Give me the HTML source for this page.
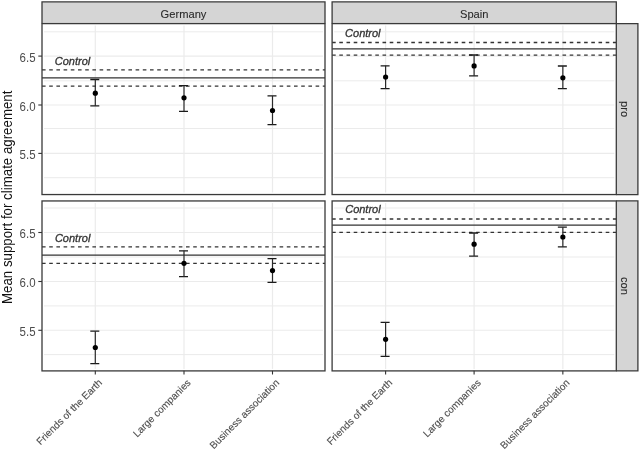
<!DOCTYPE html>
<html><head><meta charset="utf-8"><style>
html,body{margin:0;padding:0;background:#fff;}
body{width:640px;height:450px;overflow:hidden;font-family:"Liberation Sans",sans-serif;}
svg{display:block;}
#w{width:640px;height:450px;filter:grayscale(1);}
</style></head><body><div id="w">
<svg width="640" height="450" viewBox="0 0 640 450">
<rect width="640" height="450" fill="#fff"/>
<clipPath id="c00"><rect x="42.0" y="23.6" width="283.0" height="170.95000000000002"/></clipPath>
<g clip-path="url(#c00)">
<line x1="44.0" x2="323.0" y1="31.8" y2="31.8" stroke="#ebebeb" stroke-width="1.0"/>
<line x1="44.0" x2="323.0" y1="56.1" y2="56.1" stroke="#ebebeb" stroke-width="1.1"/>
<line x1="44.0" x2="323.0" y1="80.8" y2="80.8" stroke="#ebebeb" stroke-width="1.0"/>
<line x1="44.0" x2="323.0" y1="105.0" y2="105.0" stroke="#ebebeb" stroke-width="1.1"/>
<line x1="44.0" x2="323.0" y1="128.5" y2="128.5" stroke="#ebebeb" stroke-width="1.0"/>
<line x1="44.0" x2="323.0" y1="153.4" y2="153.4" stroke="#ebebeb" stroke-width="1.1"/>
<line x1="44.0" x2="323.0" y1="177.7" y2="177.7" stroke="#ebebeb" stroke-width="1.0"/>
<line x1="95.3" x2="95.3" y1="25.6" y2="192.55" stroke="#ebebeb" stroke-width="1.2"/>
<line x1="184.0" x2="184.0" y1="25.6" y2="192.55" stroke="#ebebeb" stroke-width="1.2"/>
<line x1="272.5" x2="272.5" y1="25.6" y2="192.55" stroke="#ebebeb" stroke-width="1.2"/>
<line x1="42.0" x2="325.0" y1="69.8" y2="69.8" stroke="#333" stroke-width="1.3" stroke-dasharray="3.6 3.6"/>
<line x1="42.0" x2="325.0" y1="86.05" y2="86.05" stroke="#333" stroke-width="1.3" stroke-dasharray="3.6 3.6"/>
<line x1="42.0" x2="325.0" y1="77.95" y2="77.95" stroke="#333" stroke-width="1.3"/>
<text x="54.8" y="64.7" font-family="Liberation Sans" font-style="italic" font-size="11" fill="#333" stroke="#333" stroke-width="0.3">Control</text>
<path d="M90.3,79.5H99.3M90.3,105.9H99.3" stroke="#1a1a1a" stroke-width="1.3" fill="none"/>
<path d="M95.3,79.5V105.9" stroke="#2a2a2a" stroke-width="1.2" fill="none"/>
<circle cx="95.3" cy="93.2" r="2.6" fill="#000"/>
<path d="M179.0,85.6H188.0M179.0,111.3H188.0" stroke="#1a1a1a" stroke-width="1.3" fill="none"/>
<path d="M184.0,85.6V111.3" stroke="#2a2a2a" stroke-width="1.2" fill="none"/>
<circle cx="184.0" cy="97.8" r="2.6" fill="#000"/>
<path d="M267.5,95.9H276.5M267.5,124.7H276.5" stroke="#1a1a1a" stroke-width="1.3" fill="none"/>
<path d="M272.5,95.9V124.7" stroke="#2a2a2a" stroke-width="1.2" fill="none"/>
<circle cx="272.5" cy="110.5" r="2.6" fill="#000"/>
</g>
<clipPath id="c01"><rect x="332.1" y="23.6" width="284.19999999999993" height="170.95000000000002"/></clipPath>
<g clip-path="url(#c01)">
<line x1="334.1" x2="614.3" y1="31.8" y2="31.8" stroke="#ebebeb" stroke-width="1.0"/>
<line x1="334.1" x2="614.3" y1="56.1" y2="56.1" stroke="#ebebeb" stroke-width="1.1"/>
<line x1="334.1" x2="614.3" y1="80.8" y2="80.8" stroke="#ebebeb" stroke-width="1.0"/>
<line x1="334.1" x2="614.3" y1="105.0" y2="105.0" stroke="#ebebeb" stroke-width="1.1"/>
<line x1="334.1" x2="614.3" y1="128.5" y2="128.5" stroke="#ebebeb" stroke-width="1.0"/>
<line x1="334.1" x2="614.3" y1="153.4" y2="153.4" stroke="#ebebeb" stroke-width="1.1"/>
<line x1="334.1" x2="614.3" y1="177.7" y2="177.7" stroke="#ebebeb" stroke-width="1.0"/>
<line x1="385.6" x2="385.6" y1="25.6" y2="192.55" stroke="#ebebeb" stroke-width="1.2"/>
<line x1="474.1" x2="474.1" y1="25.6" y2="192.55" stroke="#ebebeb" stroke-width="1.2"/>
<line x1="562.85" x2="562.85" y1="25.6" y2="192.55" stroke="#ebebeb" stroke-width="1.2"/>
<line x1="332.1" x2="616.3" y1="42.5" y2="42.5" stroke="#333" stroke-width="1.3" stroke-dasharray="3.6 3.6"/>
<line x1="332.1" x2="616.3" y1="55.1" y2="55.1" stroke="#333" stroke-width="1.3" stroke-dasharray="3.6 3.6"/>
<line x1="332.1" x2="616.3" y1="48.9" y2="48.9" stroke="#333" stroke-width="1.3"/>
<text x="345.1" y="36.5" font-family="Liberation Sans" font-style="italic" font-size="11" fill="#333" stroke="#333" stroke-width="0.3">Control</text>
<path d="M380.6,65.8H389.6M380.6,88.7H389.6" stroke="#1a1a1a" stroke-width="1.3" fill="none"/>
<path d="M385.6,65.8V88.7" stroke="#2a2a2a" stroke-width="1.2" fill="none"/>
<circle cx="385.6" cy="77.0" r="2.6" fill="#000"/>
<path d="M469.1,55.0H478.1M469.1,75.9H478.1" stroke="#1a1a1a" stroke-width="1.3" fill="none"/>
<path d="M474.1,55.0V75.9" stroke="#2a2a2a" stroke-width="1.2" fill="none"/>
<circle cx="474.1" cy="65.9" r="2.6" fill="#000"/>
<path d="M557.85,66.0H566.85M557.85,88.7H566.85" stroke="#1a1a1a" stroke-width="1.3" fill="none"/>
<path d="M562.85,66.0V88.7" stroke="#2a2a2a" stroke-width="1.2" fill="none"/>
<circle cx="562.85" cy="77.8" r="2.6" fill="#000"/>
</g>
<clipPath id="c10"><rect x="42.0" y="200.95" width="283.0" height="169.95"/></clipPath>
<g clip-path="url(#c10)">
<line x1="44.0" x2="323.0" y1="208.0" y2="208.0" stroke="#ebebeb" stroke-width="1.0"/>
<line x1="44.0" x2="323.0" y1="232.5" y2="232.5" stroke="#ebebeb" stroke-width="1.1"/>
<line x1="44.0" x2="323.0" y1="257.0" y2="257.0" stroke="#ebebeb" stroke-width="1.0"/>
<line x1="44.0" x2="323.0" y1="281.5" y2="281.5" stroke="#ebebeb" stroke-width="1.1"/>
<line x1="44.0" x2="323.0" y1="305.9" y2="305.9" stroke="#ebebeb" stroke-width="1.0"/>
<line x1="44.0" x2="323.0" y1="330.3" y2="330.3" stroke="#ebebeb" stroke-width="1.1"/>
<line x1="44.0" x2="323.0" y1="354.6" y2="354.6" stroke="#ebebeb" stroke-width="1.0"/>
<line x1="95.3" x2="95.3" y1="202.95" y2="368.9" stroke="#ebebeb" stroke-width="1.2"/>
<line x1="184.0" x2="184.0" y1="202.95" y2="368.9" stroke="#ebebeb" stroke-width="1.2"/>
<line x1="272.5" x2="272.5" y1="202.95" y2="368.9" stroke="#ebebeb" stroke-width="1.2"/>
<line x1="42.0" x2="325.0" y1="246.9" y2="246.9" stroke="#333" stroke-width="1.3" stroke-dasharray="3.6 3.6"/>
<line x1="42.0" x2="325.0" y1="263.4" y2="263.4" stroke="#333" stroke-width="1.3" stroke-dasharray="3.6 3.6"/>
<line x1="42.0" x2="325.0" y1="255.2" y2="255.2" stroke="#333" stroke-width="1.3"/>
<text x="54.9" y="242.2" font-family="Liberation Sans" font-style="italic" font-size="11" fill="#333" stroke="#333" stroke-width="0.3">Control</text>
<path d="M90.3,331.2H99.3M90.3,363.6H99.3" stroke="#1a1a1a" stroke-width="1.3" fill="none"/>
<path d="M95.3,331.2V363.6" stroke="#2a2a2a" stroke-width="1.2" fill="none"/>
<circle cx="95.3" cy="347.5" r="2.6" fill="#000"/>
<path d="M179.0,250.8H188.0M179.0,276.7H188.0" stroke="#1a1a1a" stroke-width="1.3" fill="none"/>
<path d="M184.0,250.8V276.7" stroke="#2a2a2a" stroke-width="1.2" fill="none"/>
<circle cx="184.0" cy="263.3" r="2.6" fill="#000"/>
<path d="M267.5,258.6H276.5M267.5,282.4H276.5" stroke="#1a1a1a" stroke-width="1.3" fill="none"/>
<path d="M272.5,258.6V282.4" stroke="#2a2a2a" stroke-width="1.2" fill="none"/>
<circle cx="272.5" cy="270.6" r="2.6" fill="#000"/>
</g>
<clipPath id="c11"><rect x="332.1" y="200.95" width="284.19999999999993" height="169.95"/></clipPath>
<g clip-path="url(#c11)">
<line x1="334.1" x2="614.3" y1="208.0" y2="208.0" stroke="#ebebeb" stroke-width="1.0"/>
<line x1="334.1" x2="614.3" y1="232.5" y2="232.5" stroke="#ebebeb" stroke-width="1.1"/>
<line x1="334.1" x2="614.3" y1="257.0" y2="257.0" stroke="#ebebeb" stroke-width="1.0"/>
<line x1="334.1" x2="614.3" y1="281.5" y2="281.5" stroke="#ebebeb" stroke-width="1.1"/>
<line x1="334.1" x2="614.3" y1="305.9" y2="305.9" stroke="#ebebeb" stroke-width="1.0"/>
<line x1="334.1" x2="614.3" y1="330.3" y2="330.3" stroke="#ebebeb" stroke-width="1.1"/>
<line x1="334.1" x2="614.3" y1="354.6" y2="354.6" stroke="#ebebeb" stroke-width="1.0"/>
<line x1="385.6" x2="385.6" y1="202.95" y2="368.9" stroke="#ebebeb" stroke-width="1.2"/>
<line x1="474.1" x2="474.1" y1="202.95" y2="368.9" stroke="#ebebeb" stroke-width="1.2"/>
<line x1="562.85" x2="562.85" y1="202.95" y2="368.9" stroke="#ebebeb" stroke-width="1.2"/>
<line x1="332.1" x2="616.3" y1="219.0" y2="219.0" stroke="#333" stroke-width="1.3" stroke-dasharray="3.6 3.6"/>
<line x1="332.1" x2="616.3" y1="232.4" y2="232.4" stroke="#333" stroke-width="1.3" stroke-dasharray="3.6 3.6"/>
<line x1="332.1" x2="616.3" y1="225.2" y2="225.2" stroke="#333" stroke-width="1.3"/>
<text x="345.2" y="213.2" font-family="Liberation Sans" font-style="italic" font-size="11" fill="#333" stroke="#333" stroke-width="0.3">Control</text>
<path d="M380.6,322.3H389.6M380.6,356.4H389.6" stroke="#1a1a1a" stroke-width="1.3" fill="none"/>
<path d="M385.6,322.3V356.4" stroke="#2a2a2a" stroke-width="1.2" fill="none"/>
<circle cx="385.6" cy="339.3" r="2.6" fill="#000"/>
<path d="M469.1,233.0H478.1M469.1,256.1H478.1" stroke="#1a1a1a" stroke-width="1.3" fill="none"/>
<path d="M474.1,233.0V256.1" stroke="#2a2a2a" stroke-width="1.2" fill="none"/>
<circle cx="474.1" cy="244.2" r="2.6" fill="#000"/>
<path d="M557.85,227.2H566.85M557.85,246.9H566.85" stroke="#1a1a1a" stroke-width="1.3" fill="none"/>
<path d="M562.85,227.2V246.9" stroke="#2a2a2a" stroke-width="1.2" fill="none"/>
<circle cx="562.85" cy="237.0" r="2.6" fill="#000"/>
</g>
<rect x="42.0" y="1.9" width="283.0" height="21.700000000000003" fill="#d5d5d5"/>
<path d="M42.0,23.6V1.9H325.0V23.6" fill="none" stroke="#3a3a3a" stroke-width="1.3"/>
<text transform="translate(183.5,17.6) scale(1,1.06)" text-anchor="middle" font-family="Liberation Sans" font-size="11.15" fill="#2a2a2a" stroke="#2a2a2a" stroke-width="0.1">Germany</text>
<rect x="332.1" y="1.9" width="284.19999999999993" height="21.700000000000003" fill="#d5d5d5"/>
<path d="M332.1,23.6V1.9H616.3V23.6" fill="none" stroke="#3a3a3a" stroke-width="1.3"/>
<text transform="translate(474.2,17.6) scale(1,1.06)" text-anchor="middle" font-family="Liberation Sans" font-size="11.15" fill="#2a2a2a" stroke="#2a2a2a" stroke-width="0.1">Spain</text>
<rect x="616.3" y="23.6" width="21.600000000000023" height="170.95000000000002" fill="#d5d5d5"/>
<path d="M616.3,23.6H637.9V194.55H616.3" fill="none" stroke="#3a3a3a" stroke-width="1.3"/>
<text transform="translate(621.2,109.075) rotate(90) scale(1,1.04)" text-anchor="middle" font-family="Liberation Sans" font-size="11.2" fill="#2a2a2a" stroke="#2a2a2a" stroke-width="0.12">pro</text>
<rect x="616.3" y="200.95" width="21.600000000000023" height="169.95" fill="#d5d5d5"/>
<path d="M616.3,200.95H637.9V370.9H616.3" fill="none" stroke="#3a3a3a" stroke-width="1.3"/>
<text transform="translate(621.2,285.92499999999995) rotate(90) scale(1,1.04)" text-anchor="middle" font-family="Liberation Sans" font-size="11.2" fill="#2a2a2a" stroke="#2a2a2a" stroke-width="0.12">con</text>
<rect x="42.0" y="23.6" width="283.0" height="170.95000000000002" fill="none" stroke="#3a3a3a" stroke-width="1.3"/>
<rect x="332.1" y="23.6" width="284.19999999999993" height="170.95000000000002" fill="none" stroke="#3a3a3a" stroke-width="1.3"/>
<rect x="42.0" y="200.95" width="283.0" height="169.95" fill="none" stroke="#3a3a3a" stroke-width="1.3"/>
<rect x="332.1" y="200.95" width="284.19999999999993" height="169.95" fill="none" stroke="#3a3a3a" stroke-width="1.3"/>
<line x1="38.3" x2="42" y1="56.1" y2="56.1" stroke="#333" stroke-width="1.1"/>
<line x1="38.3" x2="42" y1="105.0" y2="105.0" stroke="#333" stroke-width="1.1"/>
<line x1="38.3" x2="42" y1="153.4" y2="153.4" stroke="#333" stroke-width="1.1"/>
<text transform="translate(35.6,61.6) scale(1,1.1)" text-anchor="end" font-family="Liberation Sans" font-size="11.5" fill="#4d4d4d">6.5</text>
<text transform="translate(35.6,110.5) scale(1,1.1)" text-anchor="end" font-family="Liberation Sans" font-size="11.5" fill="#4d4d4d">6.0</text>
<text transform="translate(35.6,158.9) scale(1,1.1)" text-anchor="end" font-family="Liberation Sans" font-size="11.5" fill="#4d4d4d">5.5</text>
<line x1="38.3" x2="42" y1="232.5" y2="232.5" stroke="#333" stroke-width="1.1"/>
<line x1="38.3" x2="42" y1="281.5" y2="281.5" stroke="#333" stroke-width="1.1"/>
<line x1="38.3" x2="42" y1="330.3" y2="330.3" stroke="#333" stroke-width="1.1"/>
<text transform="translate(35.6,238.0) scale(1,1.1)" text-anchor="end" font-family="Liberation Sans" font-size="11.5" fill="#4d4d4d">6.5</text>
<text transform="translate(35.6,287.0) scale(1,1.1)" text-anchor="end" font-family="Liberation Sans" font-size="11.5" fill="#4d4d4d">6.0</text>
<text transform="translate(35.6,335.8) scale(1,1.1)" text-anchor="end" font-family="Liberation Sans" font-size="11.5" fill="#4d4d4d">5.5</text>
<line x1="95.3" x2="95.3" y1="370.8" y2="374.5" stroke="#333" stroke-width="1.1"/>
<text transform="translate(102.7,383.4) rotate(-45)" text-anchor="end" font-family="Liberation Sans" font-size="10" fill="#4d4d4d" stroke="#4d4d4d" stroke-width="0.12">Friends of the Earth</text>
<line x1="184.0" x2="184.0" y1="370.8" y2="374.5" stroke="#333" stroke-width="1.1"/>
<text transform="translate(191.4,383.4) rotate(-45)" text-anchor="end" font-family="Liberation Sans" font-size="10" fill="#4d4d4d" stroke="#4d4d4d" stroke-width="0.12">Large companies</text>
<line x1="272.5" x2="272.5" y1="370.8" y2="374.5" stroke="#333" stroke-width="1.1"/>
<text transform="translate(279.9,383.4) rotate(-45)" text-anchor="end" font-family="Liberation Sans" font-size="10" fill="#4d4d4d" stroke="#4d4d4d" stroke-width="0.12">Business association</text>
<line x1="385.6" x2="385.6" y1="370.8" y2="374.5" stroke="#333" stroke-width="1.1"/>
<text transform="translate(393.0,383.4) rotate(-45)" text-anchor="end" font-family="Liberation Sans" font-size="10" fill="#4d4d4d" stroke="#4d4d4d" stroke-width="0.12">Friends of the Earth</text>
<line x1="474.1" x2="474.1" y1="370.8" y2="374.5" stroke="#333" stroke-width="1.1"/>
<text transform="translate(481.5,383.4) rotate(-45)" text-anchor="end" font-family="Liberation Sans" font-size="10" fill="#4d4d4d" stroke="#4d4d4d" stroke-width="0.12">Large companies</text>
<line x1="562.85" x2="562.85" y1="370.8" y2="374.5" stroke="#333" stroke-width="1.1"/>
<text transform="translate(570.25,383.4) rotate(-45)" text-anchor="end" font-family="Liberation Sans" font-size="10" fill="#4d4d4d" stroke="#4d4d4d" stroke-width="0.12">Business association</text>
<text transform="translate(11.8,197.3) rotate(-90) scale(1,1.1)" text-anchor="middle" font-family="Liberation Sans" font-size="13.3" fill="#111">Mean support for climate agreement</text>
</svg>
</div></body></html>
